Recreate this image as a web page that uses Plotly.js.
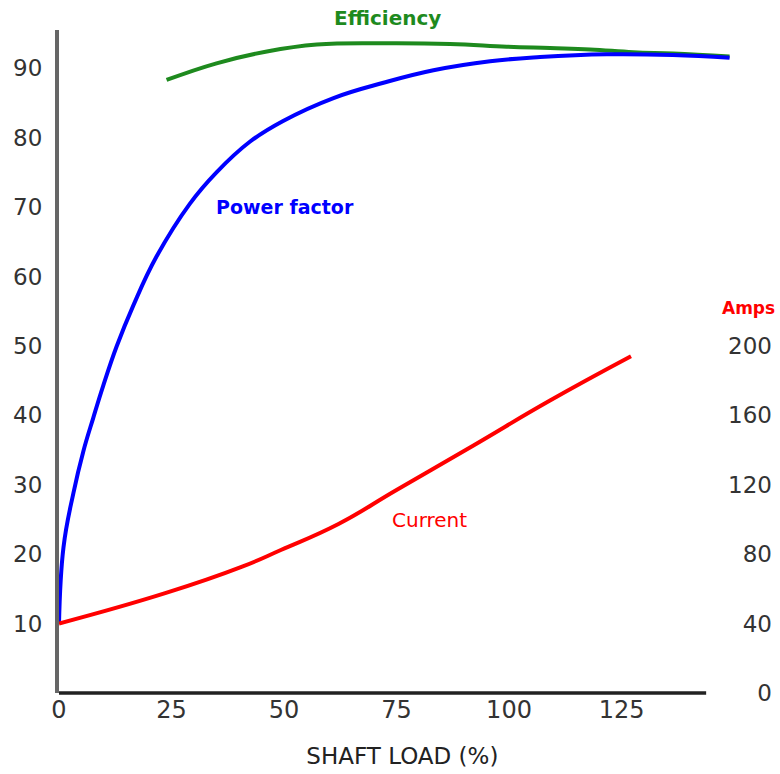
<!DOCTYPE html>
<html>
<head>
<meta charset="utf-8">
<script src="https://cdn.plot.ly/plotly-3.0.1.min.js"></script>
<style>html,body{margin:0;padding:0;background:#fff;}#chart{width:780px;height:774px;}</style>
</head>
<body>
<div id="chart"></div>
<script>
// Shaft load (%) sample points
var pfLoad = [0, 1, 3.2, 5.4, 7.6, 9.8, 12.8, 16.5, 21.7, 29.1, 35, 42.4, 49.8, 61, 72.1, 83.2, 95.8, 106.9, 121.7, 136.4, 149];
var pfValues = [10, 21, 28.8, 34.8, 39.6, 44.2, 49.9, 55.8, 62.9, 70.5, 75, 79.4, 82.4, 85.7, 87.9, 89.7, 91.0, 91.6, 92, 91.9, 91.5];

var effLoad = [23.9, 35, 46.2, 57.3, 72.1, 86.9, 99.5, 109.1, 118, 127.6, 136.5, 149];
var effValues = [88.3, 90.7, 92.4, 93.4, 93.6, 93.5, 93.1, 92.9, 92.7, 92.3, 92.1, 91.7];

var curLoad = [0, 23.6, 40.7, 49.3, 62.1, 74.9, 92, 109.1, 127.1];
var curAmps = [40, 57.5, 72.8, 82.4, 97.4, 116.8, 142.5, 168.5, 194];

var xTicks = [0, 25, 50, 75, 100, 125];
var yTicks = [10, 20, 30, 40, 50, 60, 70, 80, 90];
var ampTicks = [0, 40, 80, 120, 160, 200];

var tickFont = {family: 'DejaVu Sans', size: 23, color: '#333'};
var xMax = 159.1, xLineEnd = 143.8;

var traces = [
  {x: effLoad, y: effValues, type: 'scatter', mode: 'lines', name: 'Efficiency',
   line: {color: '#1e8a1e', width: 4, shape: 'spline', smoothing: 1.2}},
  {x: pfLoad, y: pfValues, type: 'scatter', mode: 'lines', name: 'Power factor',
   line: {color: '#0000ff', width: 4, shape: 'spline', smoothing: 1.2}},
  {x: curLoad, y: curAmps, type: 'scatter', mode: 'lines', name: 'Current', yaxis: 'y2',
   line: {color: '#ff0000', width: 4, shape: 'spline', smoothing: 1.3}}
];

var layout = {
  width: 780, height: 774,
  margin: {l: 59, r: 5, t: 30, b: 81},
  paper_bgcolor: '#fff', plot_bgcolor: '#fff',
  showlegend: false,
  xaxis: {
    range: [0, xMax], tickvals: xTicks, ticktext: xTicks.map(String),
    showgrid: false, zeroline: false, showline: false, ticks: '',
    tickfont: {family: 'DejaVu Sans', size: 24, color: '#333'}, ticklabelstandoff: 0, automargin: false,
    title: {text: 'SHAFT LOAD (%)&nbsp;&nbsp;&nbsp;&nbsp;', font: {family: 'DejaVu Sans', size: 23, color: '#222'}, standoff: 24}
  },
  yaxis: {
    range: [0, 95.5], tickvals: yTicks, ticktext: yTicks.map(String),
    showgrid: false, zeroline: false, showline: true, linecolor: '#666', linewidth: 4,
    ticks: '', tickfont: tickFont, ticklabelstandoff: 8, automargin: false
  },
  yaxis2: {
    overlaying: 'y', side: 'right', range: [0, 382],
    tickvals: ampTicks, ticktext: ampTicks.map(String),
    ticklabelposition: 'inside', ticklabeloverflow: 'allow',
    showgrid: false, zeroline: false, showline: false,
    ticks: '', tickfont: tickFont, automargin: false
  },
  shapes: [
    {type: 'line', xref: 'paper', yref: 'paper', x0: 0, x1: xLineEnd / xMax, y0: 0, y1: 0,
     line: {color: '#222', width: 3.5}}
  ],
  annotations: [
    {x: 72.9, y: 1.018, xref: 'x', yref: 'paper', yanchor: 'middle', text: '<b>Efficiency</b>', showarrow: false,
     font: {family: 'DejaVu Sans', size: 20, color: '#1e8a1e'}},
    {x: 50.2, y: 70.0, xref: 'x', yref: 'y', text: '<b>Power factor</b>', showarrow: false,
     font: {family: 'DejaVu Sans', size: 19, color: '#0000ff'}},
    {x: 82.4, y: 24.9, xref: 'x', yref: 'y', text: 'Current', showarrow: false,
     font: {family: 'DejaVu Sans', size: 20, color: '#ff0000'}},
    {x: 153.2, y: 55.5, xref: 'x', yref: 'y', text: '<b>Amps</b>', showarrow: false,
     font: {family: 'DejaVu Sans', size: 17, color: '#ff0000'}}
  ]
};

Plotly.newPlot('chart', traces, layout, {displayModeBar: false, staticPlot: true});
</script>
</body>
</html>
